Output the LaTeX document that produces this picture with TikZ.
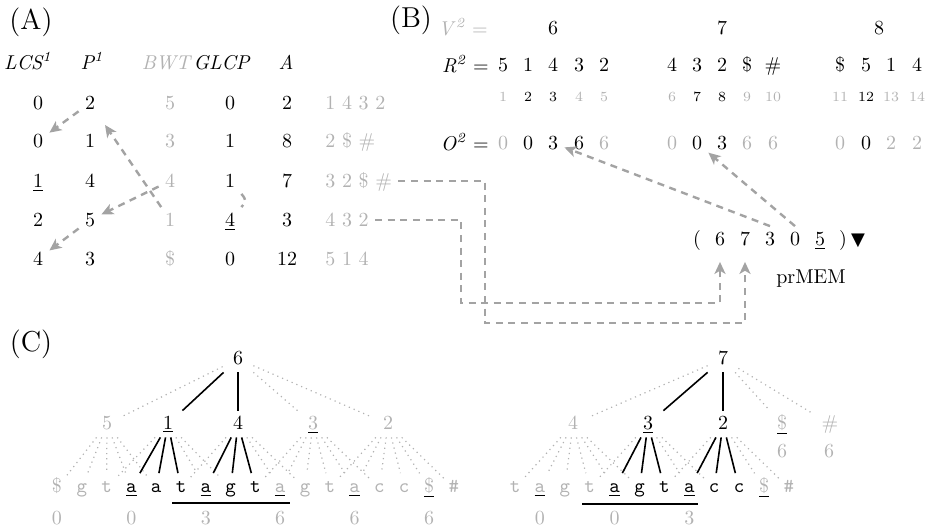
\documentclass[tikz,border=0pt]{standalone}
\usepackage{fontspec}
\newfontfamily\symfnt{DejaVu Sans}
\usetikzlibrary{arrows.meta}
\definecolor{lg}{gray}{0.70}
\definecolor{ag}{gray}{0.64}
\newcommand\gul[1]{{\color{black}\underline{\textcolor{lg}{#1}}}}
\begin{document}
\begin{tikzpicture}[x=0.5pt,y=-0.5pt,
  cell/.style={inner xsep=3pt,inner ysep=3pt,text height=6.5pt,text depth=0pt},
  gcell/.style={cell,text=lg},
  hdr/.style={inner sep=2pt,text height=7pt,text depth=0pt},
  lbl/.style={font=\Large,inner sep=0pt},
  eqlab/.style={inner sep=0pt,text height=7pt,text depth=0pt},
  idx/.style={font=\scriptsize,inner sep=1pt},
  arr/.style={draw=ag,line width=1.2pt,dash pattern=on 3.5pt off 2.8pt,-{Stealth[length=6pt,width=5.5pt,inset=1.6pt]}},
  dsh/.style={draw=ag,line width=1.2pt,dash pattern=on 3.5pt off 2.8pt},
  tn/.style={inner xsep=5pt,inner ysep=2.5pt,text height=6.5pt,text depth=1.5pt},
  gtn/.style={tn,text=lg},
  lf/.style={font=\ttfamily,inner xsep=2pt,inner ysep=3pt,text height=6.5pt,text depth=2pt},
  dotln/.style={draw=lg,dotted,line width=0.6pt},
  sol/.style={draw=black,line width=0.8pt},
]
\useasboundingbox (0,0) rectangle (928,531);
% ---------------- (A)
\node[lbl] (labA) at (31,22) {(A)};
\node[hdr] (hL) at (28,62) {\textit{LCS\textsuperscript{1}}};
\node[hdr] (hP) at (92,62) {\textit{P\textsuperscript{1}}};
\node[hdr,text=lg] (hB) at (167,62) {\textit{BWT}};
\node[hdr] (hG) at (222,62) {\textit{GLCP}};
\node[hdr] (hA) at (286,62) {\textit{A}};
% row 1
\node[cell] (l1) at (38,103) {0};
\node[cell] (p1) at (90,103) {2};
\node[gcell] (b1) at (170,103) {5};
\node[cell] (g1) at (230,103) {0};
\node[cell] (a1) at (287,103) {2};
\node[gcell,anchor=west] (s1) at (319,103) {1 4 3 2};
% row 2
\node[cell] (l2) at (38,141) {0};
\node[cell] (p2) at (90,141) {1};
\node[gcell] (b2) at (170,141) {3};
\node[cell] (g2) at (230,141) {1};
\node[cell] (a2) at (287,141) {8};
\node[gcell,anchor=west] (s2) at (319,141) {2 \$ \#};
% row 3
\node[cell] (l3) at (38,181) {\underline{1}};
\node[cell] (p3) at (90,181) {4};
\node[gcell] (b3) at (170,181) {4};
\node[cell] (g3) at (230,181) {1};
\node[cell] (a3) at (287,181) {7};
\node[gcell,anchor=west] (s3) at (319,181) {3 2 \$ \#};
% row 4
\node[cell] (l4) at (38,220) {2};
\node[cell] (p4) at (90,220) {5};
\node[gcell] (b4) at (170,220) {1};
\node[cell] (g4) at (230,220) {\underline{4}};
\node[cell] (a4) at (287,220) {3};
\node[gcell,anchor=west] (s4) at (319,220) {4 3 2};
% row 5
\node[cell] (l5) at (38,259) {4};
\node[cell] (p5) at (90,259) {3};
\node[gcell] (b5) at (170,259) {\$};
\node[cell] (g5) at (230,259) {0};
\node[cell] (a5) at (287,259) {12};
\node[gcell,anchor=west] (s5) at (319,259) {5 1 4};
% arrows in (A)
\draw[arr] (p1) -- (l2);
\draw[arr,shorten >=5.5pt] (b4) -- (p1);
\draw[arr] (b3) -- (p4);
\draw[arr] (p4) -- (l5);
\draw[dsh] (g3.south east) .. controls +(5,6) and +(5,-6) .. (g4.north east);
% ---------------- (B)
\node[lbl] (labB) at (411,20) {(B)};
\node[eqlab,anchor=west,text=lg] (vlab) at (438,28) {\textit{V}\textsuperscript{\textit{2}} =};
\node[eqlab,anchor=east] (rlab) at (489,65) {\textit{R}\textsuperscript{\textit{2}} =};
\node[eqlab,anchor=east] (olab) at (489,143) {\textit{O}\textsuperscript{\textit{2}} =};
\node[cell] (v6) at (553,28) {6};
\node[cell] (v7) at (722,28) {7};
\node[cell] (v8) at (879,28) {8};
\foreach \x/\t [count=\k] in {503/5,528/1,553/4,579/3,604/2,672/4,697/3,722/2,747/\$,773/\#,840/\$,866/5,891/1,917/4}
  \node[cell] (R\k) at (\x,65) {\t};
\foreach \x/\t/\c [count=\k] in {503/1/lg,528/2/black,553/3/black,579/4/lg,604/5/lg,672/6/lg,697/7/black,722/8/black,747/9/lg,773/10/lg,840/11/lg,866/12/black,891/13/lg,917/14/lg}
  \node[idx,text=\c] (I\k) at (\x,97) {\t};
\foreach \x/\t/\c [count=\k] in {503/0/lg,528/0/black,553/3/black,579/6/black,604/6/lg,672/0/lg,697/0/black,722/3/black,747/6/lg,773/6/lg,840/0/lg,866/0/black,891/2/lg,917/2/lg}
  \node[cell,text=\c] (O\k) at (\x,143) {\t};
% prMEM tuple
\node[cell] (tp) at (697,239) {(};
\node[cell] (t6) at (720,239) {6};
\node[cell] (t7) at (745,239) {7};
\node[cell] (t3) at (770,239) {3};
\node[cell] (t0) at (795,239) {0};
\node[cell] (t5) at (820,239) {\underline{5}};
\node[cell] (tq) at (843,239) {)};
\node[cell,font=\symfnt\small] (tri) at (858,239) {▼};
\node[inner sep=0pt] (pm) at (811,279) {prMEM};
\draw[arr] (t3.north) -- (O3);
\draw[arr] (t0.north) -- (O7);
\coordinate (k1) at (485,323);
\coordinate (k2) at (461,303);
\draw[arr,shorten >=5pt] (s3.east) -| (k1) -| (t7);
\draw[arr,shorten >=5pt] (s4.east) -| (k2) -| (t6);
% ---------------- (C)
\node[lbl] (labC) at (31,344) {(C)};
% left tree
\node[tn] (r6) at (238,359) {6};
\node[gtn] (c5) at (107,424) {5};
\node[tn] (c1) at (168,424) {\underline{1}};
\node[tn] (c4) at (238,424) {4};
\node[gtn] (c3) at (313,424) {\gul{3}};
\node[gtn] (c2) at (388,424) {2};
\draw[dotln] (r6) -- (c5);
\draw[sol] (r6) -- (c1);
\draw[sol] (r6) -- (c4);
\draw[dotln] (r6) -- (c3);
\draw[dotln] (r6) -- (c2);
\foreach \i/\t/\c in {0/{\rmfamily\$}/lg,1/g/lg,2/t/lg,3/\underline{a}/black,4/a/black,5/t/black,6/\underline{a}/black,7/g/black,8/t/black,9/\gul{a}/lg,10/g/lg,11/t/lg,12/\gul{a}/lg,13/c/lg,14/c/lg,15/{\gul{\rmfamily\$}}/lg,16/\#/lg}
  \node[lf,text=\c] (L\i) at (57+24.8*\i,488) {\t};
\foreach \j in {0,...,4} \draw[dotln] (c5) -- (L\j);
\foreach \j in {2,6,7} \draw[dotln] (c1) -- (L\j);
\foreach \j in {3,4,5} \draw[sol] (c1) -- (L\j);
\foreach \j in {5,9,10} \draw[dotln] (c4) -- (L\j);
\foreach \j in {6,7,8} \draw[sol] (c4) -- (L\j);
\foreach \j in {8,...,13} \draw[dotln] (c3) -- (L\j);
\foreach \j in {11,...,16} \draw[dotln] (c2) -- (L\j);
\foreach \j/\n in {0/0,3/0,6/3,9/6,12/6,15/6}
  \node[gcell] (N\j) at (57+24.8*\j,518) {\n};
\draw[sol] (172,503) -- (290,503);
% right tree
\node[tn] (r7) at (723,359) {7};
\node[gtn] (d4) at (573,424) {4};
\node[tn] (d3) at (648,424) {\underline{3}};
\node[tn] (d2) at (723,424) {2};
\node[gtn] (dS) at (782,424) {\gul{\$}};
\node[gtn] (dH) at (830,424) {\#};
\node[gcell] (nS) at (782,451) {6};
\node[gcell] (nH) at (829,451) {6};
\draw[dotln] (r7) -- (d4);
\draw[sol] (r7) -- (d3);
\draw[sol] (r7) -- (d2);
\draw[dotln] (r7) -- (dS);
\draw[dotln] (r7) -- (dH);
\foreach \i/\t/\c in {0/t/lg,1/\gul{a}/lg,2/g/lg,3/t/lg,4/\underline{a}/black,5/g/black,6/t/black,7/\underline{a}/black,8/c/black,9/c/black,10/{\gul{\rmfamily\$}}/lg,11/\#/lg}
  \node[lf,text=\c] (M\i) at (515+24.9*\i,488) {\t};
\foreach \j in {0,...,5} \draw[dotln] (d4) -- (M\j);
\foreach \j in {3,7,8} \draw[dotln] (d3) -- (M\j);
\foreach \j in {4,5,6} \draw[sol] (d3) -- (M\j);
\foreach \j in {6,10,11} \draw[dotln] (d2) -- (M\j);
\foreach \j in {7,8,9} \draw[sol] (d2) -- (M\j);
\foreach \j/\n in {1/0,4/0,7/3}
  \node[gcell] (Q\j) at (515+24.9*\j,518) {\n};
\draw[sol] (582,504) -- (698,504);
\end{tikzpicture}
\end{document}
